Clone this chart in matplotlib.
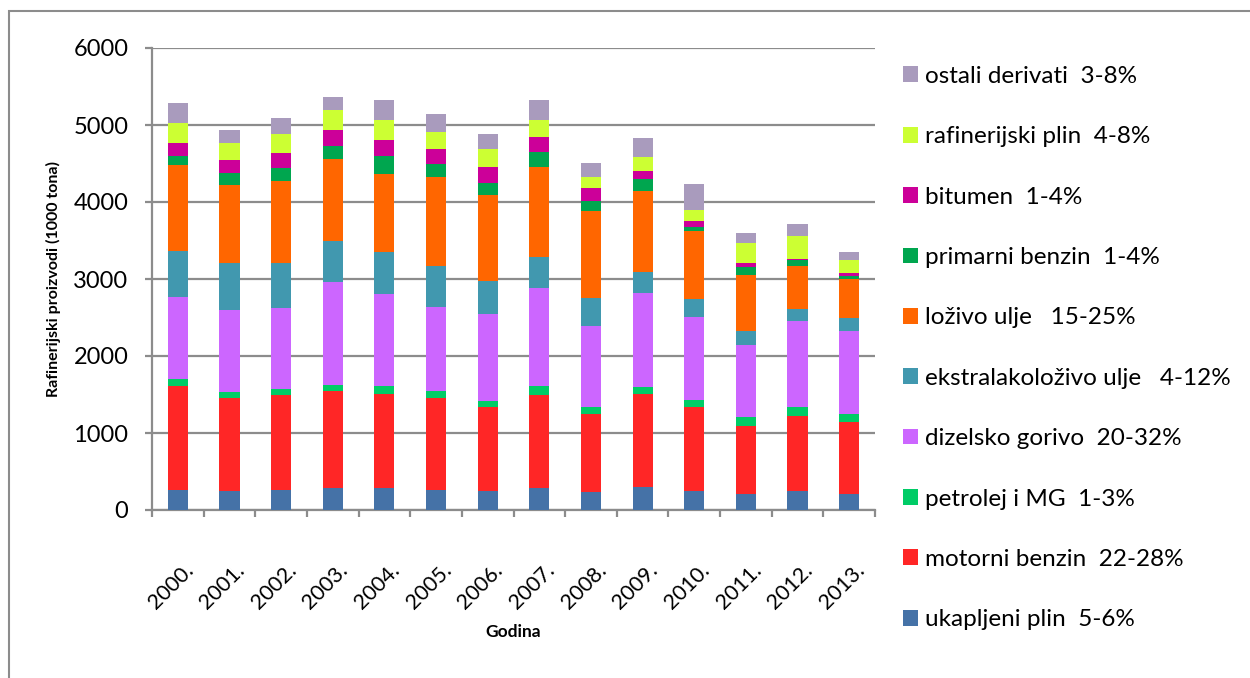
import numpy as np
import matplotlib
matplotlib.use('Agg')
from matplotlib import pyplot as plt
from matplotlib.patches import Rectangle

plt.rcParams['font.family'] = ['Lato', 'DejaVu Sans']

# godine i serije (1000 tona)
godine = ['2000.', '2001.', '2002.', '2003.', '2004.', '2005.', '2006.',
          '2007.', '2008.', '2009.', '2010.', '2011.', '2012.', '2013.']

ukapljeni_plin = [265, 252, 265, 287, 287, 265, 252, 287, 230, 303, 247, 208, 247, 208]
motorni_benzin = [1344, 1205, 1226, 1256, 1222, 1192, 1087, 1204, 1022, 1199, 1091, 879, 978, 939]
petrolej_mg = [91, 73, 74, 79, 95, 91, 78, 113, 91, 95, 91, 116, 108, 95]
dizelsko_gorivo = [1070, 1070, 1052, 1335, 1205, 1091, 1126, 1279, 1053, 1217, 1082, 936, 1126, 1087]
ekstralako_ulje = [600, 604, 587, 543, 543, 526, 435, 400, 356, 277, 229, 190, 147, 165]
lozivo_ulje = [1113, 1013, 1070, 1057, 1018, 1165, 1109, 1178, 1131, 1056, 879, 727, 563, 510]
primarni_benzin = [108, 166, 165, 165, 221, 170, 165, 191, 130, 147, 56, 96, 73, 35]
bitumen = [174, 156, 191, 208, 209, 187, 209, 187, 170, 113, 74, 56, 22, 39]
rafinerijski_plin = [261, 226, 248, 266, 265, 226, 226, 226, 147, 182, 151, 264, 299, 164]
ostali_derivati = [265, 170, 209, 174, 265, 226, 191, 265, 174, 246, 334, 130, 147, 113]

serije = [
    (ukapljeni_plin, 'ukapljeni plin  5-6%', '#4572A7'),
    (motorni_benzin, 'motorni benzin  22-28%', '#FF2626'),
    (petrolej_mg, 'petrolej i MG  1-3%', '#00CC66'),
    (dizelsko_gorivo, 'dizelsko gorivo  20-32%', '#CC66FF'),
    (ekstralako_ulje, 'ekstralakoloživo ulje   4-12%', '#4198AF'),
    (lozivo_ulje, 'loživo ulje   15-25%', '#FF6600'),
    (primarni_benzin, 'primarni benzin  1-4%', '#00A64F'),
    (bitumen, 'bitumen  1-4%', '#CC0099'),
    (rafinerijski_plin, 'rafinerijski plin  4-8%', '#CCFF33'),
    (ostali_derivati, 'ostali derivati  3-8%', '#A99BBD'),
]

fig = plt.figure(figsize=(12.5, 6.78), dpi=100)
ax = fig.add_axes([152 / 1250, 1 - 510 / 678, (875 - 152) / 1250, (510 - 48) / 678])

x = np.arange(len(godine))
dno = np.zeros(len(godine))
for vrijednosti, ime, boja in serije:
    ax.bar(x, vrijednosti, 0.39, bottom=dno, color=boja, label=ime, zorder=3)
    dno += np.array(vrijednosti)

ax.set_xlim(-0.5, len(godine) - 0.5)
ax.set_ylim(0, 6000)
ax.set_yticks(range(0, 6001, 1000))
ax.yaxis.grid(True, color='#8c8c8c', linewidth=1.6, zorder=0)
for s in ['top', 'right']:
    ax.spines[s].set_visible(False)
for s in ['left', 'bottom']:
    ax.spines[s].set_color('#8c8c8c')
    ax.spines[s].set_linewidth(1.6)

# Excel-stil: kvačice između kategorija
ax.set_xticks(np.arange(-0.5, len(godine), 1.0))
ax.set_xticklabels([])
ax.set_xticks(x + 0.1, minor=True)
ax.set_xticklabels(godine, minor=True, rotation=45, ha='right', rotation_mode='anchor', fontsize=15.5)
ax.tick_params(axis='x', which='major', length=5, color='#8c8c8c', width=1.6, direction='out')
ax.tick_params(axis='x', which='minor', length=0, pad=36)
ax.tick_params(axis='y', length=5, color='#8c8c8c', width=1.6, labelsize=17, pad=12)

ax.set_ylabel('Rafinerijski proizvodi (1000 tona)', fontsize=11.5, fontweight='bold', labelpad=9)
ax.set_xlabel('Godina', fontsize=12.5, fontweight='bold', labelpad=8)

h, l = ax.get_legend_handles_labels()
fig.legend(h[::-1], l[::-1], loc='upper left', bbox_to_anchor=(881 / 1250, 1 - 44 / 678),
           frameon=False, fontsize=17.5, labelspacing=1.62, handlelength=0.62,
           handleheight=0.62, handletextpad=0.3)

# okvir oko slike
fig.patches.append(Rectangle((9 / 1250, -0.01), 1.0, 1 - 11 / 678 + 0.01, transform=fig.transFigure,
                             fill=False, edgecolor='#8c8c8c', linewidth=1.5))

fig.savefig('out.png', dpi=100)
